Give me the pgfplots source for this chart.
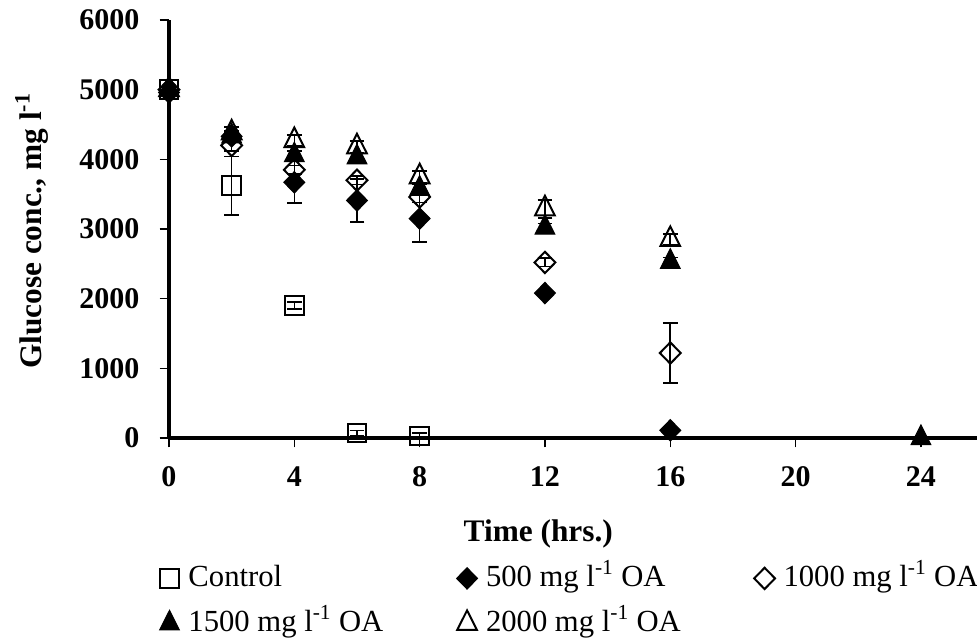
\documentclass[border=0pt]{standalone}
\usepackage{fontspec}
\setmainfont{Liberation Serif}
\usepackage{pgfplots}
\pgfplotsset{compat=1.18}

% marker styles for the five treatments
\pgfplotsset{
  ctrl/.style={only marks, mark=square, mark size=7pt, mark options={line width=1.5pt, fill=none}},
  oa500/.style={only marks, mark=diamond*, mark size=8pt, mark options={xscale=1.3, line width=0.8pt}},
  oa1000/.style={only marks, mark=diamond, mark size=8pt, mark options={xscale=1.3, line width=1.5pt, fill=none}},
  oa1500/.style={only marks, mark=triangle*, mark size=8.5pt, mark options={yscale=1.15, line width=0.8pt}},
  oa2000/.style={only marks, mark=triangle, mark size=8.5pt, mark options={yscale=1.15, line width=1.5pt, fill=none}},
}

\begin{document}
\begin{tikzpicture}
\begin{axis}[
  at={(0pt,0pt)}, anchor=south west,
  scale only axis, width=606pt, height=313.5pt,
  xmin=0, xmax=25.79, ymin=0, ymax=6000,
  clip=false,
  axis x line*=bottom, axis y line*=left,
  axis line style={line width=3pt},
  xtick={0,4,...,24}, ytick={0,1000,...,6000},
  tick align=outside, major tick length=7pt,
  tick style={black, line width=1pt},
  /pgf/number format/1000 sep={},
  /pgf/number format/assume math mode=true,
  tick label style={font=\fontsize{22.5}{27}\selectfont\bfseries},
  xticklabel style={anchor=center, yshift=-22pt},
  yticklabel style={anchor=east, inner sep=0pt, xshift=-15pt},
  xlabel={Time (hrs.)},
  ylabel={Glucose conc., mg l\textsuperscript{-1}},
  label style={font=\fontsize{23.5}{27}\selectfont\bfseries},
  xlabel style={at={(axis description cs:0.457,-0.2297)}, anchor=center},
  ylabel style={at={(axis description cs:-0.1696,0.495)}, anchor=center},
  legend columns=3,
  legend cell align=left,
  legend image code/.code={\path (-8pt,0pt) (12pt,0pt); \draw[#1] plot coordinates {(0pt,0pt)};},
  legend style={at={(axis description cs:-0.0132,-0.297)}, anchor=north west,
    draw=none, fill=none, inner sep=0pt, row sep=9.75pt,
    font=\fontsize{23}{27}\selectfont,
    nodes={inner sep=2pt, text height=16pt, text depth=4pt}},
  every axis plot/.append style={black,
    error bars/y dir=both, error bars/y explicit,
    error bars/error bar style={line width=1.2pt, black},
    error bars/error mark options={rotate=90, mark size=5.5pt, line width=1.2pt, black}},
]
% Control
\addplot[ctrl] coordinates {
  (0,5000) +- (0,40)
  (2,3620) +- (0,420)
  (4,1900) +- (0,50)
  (6,70) +- (0,40)
  (8,30) +- (0,40)
};
\addlegendentry{\makebox[198.75pt][l]{Control}}
% 500 mg/l OA
\addplot[oa500] coordinates {
  (0,4960) +- (0,40)
  (2,4330) +- (0,80)
  (4,3670) +- (0,300)
  (6,3410) +- (0,310)
  (8,3150) +- (0,340)
  (12,2080) +- (0,50)
  (16,110) +- (0,30)
};
\addlegendentry{\makebox[198.75pt][l]{500 mg l\textsuperscript{-1} OA}}
% 1000 mg/l OA
\addplot[oa1000] coordinates {
  (0,5000) +- (0,40)
  (2,4200) +- (0,80)
  (4,3850) +- (0,60)
  (6,3700) +- (0,60)
  (8,3460) +- (0,80)
  (12,2520) +- (0,60)
  (16,1220) +- (0,430)
};
\addlegendentry{\makebox[198.75pt][l]{1000 mg l\textsuperscript{-1} OA}}
% 1500 mg/l OA
\addplot[oa1500] coordinates {
  (0,5000) +- (0,40)
  (2,4330) +- (0,60)
  (4,4060) +- (0,60)
  (6,4030) +- (0,60)
  (8,3580) +- (0,60)
  (12,3020) +- (0,60)
  (16,2530) +- (0,60)
  (24,0) +- (0,20)
};
\addlegendentry{\makebox[198.75pt][l]{1500 mg l\textsuperscript{-1} OA}}
% 2000 mg/l OA
\addplot[oa2000] coordinates {
  (0,5000) +- (0,40)
  (2,4380) +- (0,80)
  (4,4270) +- (0,80)
  (6,4180) +- (0,80)
  (8,3750) +- (0,80)
  (12,3290) +- (0,130)
  (16,2850) +- (0,80)
};
\addlegendentry{\makebox[198.75pt][l]{2000 mg l\textsuperscript{-1} OA}}
\end{axis}
\pgfresetboundingbox
\path (-126.75pt,-150pt) rectangle (606pt,328.5pt);
\end{tikzpicture}
\end{document}
